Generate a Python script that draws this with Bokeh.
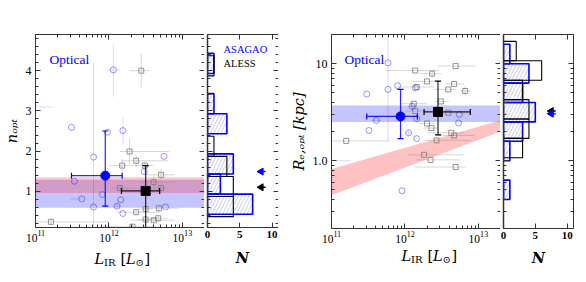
import numpy as np
from bokeh.plotting import figure
from bokeh.layouts import row, column
from bokeh.models import (Range1d, LinearAxis, LogAxis, FixedTicker, Label,
                          CustomJSTickFormatter, BoxAnnotation)
from bokeh.embed import file_html
from bokeh.resources import INLINE

# ---------------- data (log10 L_IR in L_sun) ----------------
# Left panel: n_opt vs L_IR
asa_n_logL = [12.06, 11.49, 11.98, 12.19, 11.79, 12.75, 12.48, 11.53, 11.91, 11.63, 11.79, 12.11, 12.16, 12.19, 12.77, 10.80]
asa_n      = [4.02, 2.59, 2.47, 2.51, 1.85, 1.87, 1.49, 1.25, 0.92, 0.81, 0.61, 0.63, 0.79, 0.45, 0.61, 3.10]
asa_n_xlo  = [11.97, 11.49, 11.98, 12.19, 11.79, 12.75, 12.48, 11.53, 11.91, 11.47, 11.79, 12.07, 12.16, 12.19, 12.77, 10.60]
asa_n_xhi  = [12.15, 11.49, 11.98, 12.19, 11.79, 12.75, 12.48, 11.53, 11.91, 11.63, 11.79, 12.16, 12.16, 12.19, 12.77, 11.25]
asa_n_ylo  = [3.35, 2.59, 2.47, 2.16, 0.00, 1.87, 1.42, 1.25, 0.92, 0.81, 0.61, 0.55, 0.79, 0.45, 0.61, 3.10]
asa_n_yhi  = [4.66, 2.59, 2.47, 2.85, 4.20, 1.87, 1.56, 1.25, 0.92, 0.81, 0.61, 0.71, 0.79, 0.45, 0.61, 3.10]

ale_n_logL = [12.44, 12.28, 12.37, 12.18, 12.49, 12.71, 12.61, 12.15, 12.71, 12.50, 12.37, 12.68, 12.50, 12.61, 12.67, 12.32, 11.21]
ale_n      = [4.00, 1.99, 1.76, 1.64, 1.64, 1.41, 1.23, 1.08, 1.08, 0.56, 0.48, 0.58, 0.30, 0.28, 0.33, 0.12, 0.24]
ale_n_xlo  = [12.27, 12.15, 12.17, 12.00, 12.40, 12.50, 12.42, 12.03, 12.60, 12.40, 12.10, 12.45, 12.40, 12.30, 12.55, 11.90, 11.00]
ale_n_xhi  = [12.55, 12.82, 12.80, 12.40, 12.60, 12.90, 12.93, 12.35, 12.80, 12.60, 12.70, 12.95, 12.60, 12.90, 12.80, 12.65, 12.00]
ale_n_ylo  = [3.59, 1.67, 1.60, 1.50, 1.55, 1.30, 1.05, 1.00, 0.95, 0.50, 0.42, 0.50, 0.22, 0.20, 0.25, 0.05, 0.18]
ale_n_yhi  = [4.44, 2.32, 1.90, 1.80, 1.75, 1.55, 1.40, 1.15, 1.20, 0.62, 0.55, 0.66, 0.38, 0.36, 0.42, 0.20, 0.30]

med_n_logL = [11.95, 12.50]
med_n      = [1.39, 1.01]
med_n_xlo  = [11.49, 12.17]
med_n_xhi  = [12.18, 12.69]
med_n_ylo  = [0.63, 0.00]
med_n_yhi  = [2.50, 1.64]

band_n_blue = [0.59, 1.29]
band_n_red  = [0.96, 1.35]

# Right panel: R_e,opt [kpc] vs L_IR
asa_r_logL = [11.77, 11.48, 11.77, 11.90, 12.14, 12.10, 11.61, 12.16, 11.51, 12.05, 12.16, 12.73, 12.74, 11.96, 10.80]
asa_r      = [10.2, 4.87, 5.43, 5.93, 5.60, 3.63, 2.60, 2.71, 2.05, 1.94, 1.69, 2.45, 3.00, 0.49, 1.00]
asa_r_xlo  = [11.77, 11.48, 11.77, 11.90, 12.14, 12.04, 11.55, 12.16, 11.51, 12.00, 12.16, 12.73, 12.74, 11.96, 10.60]
asa_r_xhi  = [11.77, 11.48, 11.77, 11.90, 12.14, 12.16, 11.68, 12.16, 11.51, 12.10, 12.16, 12.73, 12.74, 11.96, 11.26]
asa_r_ylo  = [1.62, 4.87, 5.43, 5.93, 5.20, 3.30, 2.60, 2.50, 2.05, 1.80, 1.69, 2.45, 3.00, 0.49, 1.00]
asa_r_yhi  = [25.0, 4.87, 5.43, 5.93, 6.00, 4.00, 2.60, 2.90, 2.05, 2.10, 1.69, 2.45, 3.00, 0.49, 1.00]

ale_r_logL = [12.69, 12.14, 12.37, 12.30, 12.67, 12.16, 12.59, 12.82, 12.12, 12.49, 12.14, 12.59, 12.30, 12.36, 12.63, 12.67, 12.43, 11.20, 12.26, 12.35, 12.69]
ale_r      = [9.46, 8.50, 7.90, 6.57, 6.17, 5.75, 5.43, 5.23, 3.87, 4.08, 3.25, 3.12, 2.42, 2.17, 1.94, 1.82, 1.62, 1.60, 1.15, 1.02, 0.86]
ale_r_xlo  = [12.44, 11.75, 12.20, 12.10, 12.55, 11.90, 12.40, 12.75, 11.95, 12.40, 12.00, 12.40, 12.20, 12.25, 12.30, 12.45, 12.26, 11.00, 12.03, 12.15, 12.13]
ale_r_xhi  = [12.96, 12.46, 12.50, 12.50, 12.80, 12.40, 12.70, 12.90, 12.30, 12.60, 12.35, 12.90, 12.40, 12.45, 12.80, 12.95, 12.90, 11.80, 12.80, 12.75, 12.83]
ale_r_ylo  = [9.46, 8.50, 7.30, 6.57, 6.17, 5.75, 5.43, 4.70, 3.87, 4.08, 3.25, 3.12, 2.42, 2.17, 1.94, 1.82, 1.62, 1.60, 1.15, 1.02, 0.86]
ale_r_yhi  = [9.46, 8.50, 8.60, 6.57, 6.17, 5.75, 5.43, 5.90, 3.87, 4.08, 3.25, 3.12, 2.42, 2.17, 1.94, 1.82, 1.62, 1.60, 1.15, 1.02, 0.86]

med_r_logL = [11.94, 12.45]
med_r      = [2.86, 3.18]
med_r_xlo  = [11.48, 12.26]
med_r_xhi  = [12.17, 12.89]
med_r_ylo  = [1.69, 1.85]
med_r_yhi  = [5.43, 6.60]

band_r_blue = [2.5, 3.7]
relation_logL = [11.0, 13.3]
relation_lo   = [0.44, 2.00]
relation_hi   = [0.82, 2.60]

# Histograms
hist_n_asa_edges = [0.43, 0.93, 1.43, 1.93, 2.43, 2.93, 3.43, 3.93, 4.43]
hist_n_asa_counts = [7, 2, 4, 0, 3, 1, 0, 1]
hist_n_ale_edges = [0.37, 0.87, 1.37, 1.87, 2.37, 2.87, 3.37, 3.87, 4.37]
hist_n_ale_counts = [4, 4, 3, 1, 0, 0, 0, 1]
hist_r_asa_logedges = [-0.4, -0.2, 0.0, 0.2, 0.4, 0.6, 0.8, 1.0, 1.2]
hist_r_asa_counts = [1, 0, 1, 3, 5, 3, 4, 1]
hist_r_ale_logedges = [0.03, 0.23, 0.43, 0.63, 0.83, 1.03, 1.23]
hist_r_ale_counts = [3, 4, 4, 3, 6, 2]

arrow_n = {"ASAGAO": 1.49, "ALESS": 1.10}
arrow_r = {"ASAGAO": 3.05, "ALESS": 3.25}

# ---------------- styling helpers ----------------
SERIF = "Liberation Serif"
MSERIF = "DejaVu Serif"
AXC = "#333333"
BLUE = "#0000ff"
GRAY = "#7a7a7a"


def lin(v):
    return [10.0 ** a for a in v]


def style(ax, show=True, bold=False, size="12px", standoff=3):
    ax.major_tick_in = 5
    ax.major_tick_out = 0
    ax.minor_tick_in = 3
    ax.minor_tick_out = 0
    ax.axis_line_color = AXC
    ax.major_tick_line_color = AXC
    ax.minor_tick_line_color = AXC
    if show:
        ax.major_label_text_font = SERIF
        ax.major_label_text_font_size = size
        ax.major_label_text_color = "black"
        ax.major_label_standoff = standoff
        if bold:
            ax.major_label_text_font_style = "bold"
    else:
        ax.formatter = CustomJSTickFormatter(code="return ''")
        ax.major_label_standoff = 0
        ax.major_label_text_font_size = "1px"


def ylabel(ax, text):
    ax.axis_label = text
    ax.axis_label_text_font = MSERIF
    ax.axis_label_text_font_size = "14.5px"
    ax.axis_label_text_font_style = "italic"
    ax.axis_label_text_color = "black"
    ax.axis_label_standoff = 3


x_major = [1e11, 1e12, 1e13]
x_minor = [k * 10.0 ** e for e in (11, 12, 13) for k in range(2, 10) if k * 10.0 ** e <= 2e13]
n_major = [1, 2, 3, 4]
n_minor = [round(0.2 * i, 1) for i in range(1, 25)]
r_major = [1, 10]
r_minor = [0.2, 0.3, 0.4, 0.5, 0.6, 0.7, 0.8, 0.9, 2, 3, 4, 5, 6, 7, 8, 9, 20]
h_major = [0, 5, 10]


def base_fig(**kw):
    p = figure(output_backend="svg", toolbar_location=None, **kw)
    p.grid.visible = False
    p.outline_line_color = None
    p.background_fill_color = "white"
    p.border_fill_color = "white"
    return p


def strip(w, h):
    p = figure(output_backend="svg", toolbar_location=None, width=w, height=h,
               x_range=Range1d(0, w), y_range=Range1d(0, h),
               x_axis_location=None, y_axis_location=None,
               min_border_left=0, min_border_right=0, min_border_top=0, min_border_bottom=0)
    p.grid.visible = False
    p.outline_line_color = None
    p.border_fill_color = "white"
    return p


def mirror(p, xlog, ylog, xt, yt):
    top = LogAxis(ticker=xt) if xlog else LinearAxis(ticker=xt)
    right = LogAxis(ticker=yt) if ylog else LinearAxis(ticker=yt)
    style(top, show=False)
    style(right, show=False)
    p.add_layout(top, "above")
    p.add_layout(right, "right")


def label(p, text, x, y, size, font=MSERIF, style_="normal", color="black", angle=0, align="left"):
    p.add_layout(Label(x=x, y=y, x_units="screen", y_units="screen", text=text,
                       text_font=font, text_font_size=size, text_font_style=style_,
                       text_color=color, angle=angle, text_align=align,
                       text_baseline="alphabetic"))


def lir_label(p, x0, y0):
    label(p, "L", x0, y0, "14.5px", style_="italic")
    label(p, "IR", x0 + 9.5, y0 - 3.5, "10px")
    label(p, "[", x0 + 26, y0, "14.5px")
    label(p, "L", x0 + 31.5, y0, "14.5px", style_="italic")
    label(p, "\u2299", x0 + 41, y0 - 3.5, "10px")
    label(p, "]", x0 + 50, y0, "14.5px")


def scatter_block(p, logL, y, xlo, xhi, ylo, yhi, color, alpha_pt, alpha_err, marker, size):
    X = lin(logL)
    p.segment(x0=lin(xlo), x1=lin(xhi), y0=y, y1=y, line_color=color, line_alpha=alpha_err, line_width=1)
    p.segment(x0=X, x1=X, y0=ylo, y1=yhi, line_color=color, line_alpha=alpha_err, line_width=1)
    p.scatter(X, y, marker=marker, size=size, fill_color=None, line_color=color,
              line_alpha=alpha_pt, line_width=1)


def median_block(p, logL, y, xlo, xhi, ylo, yhi, idx, color, marker):
    X = [10.0 ** logL[idx]]
    Y = [y[idx]]
    xl, xh = [10.0 ** xlo[idx]], [10.0 ** xhi[idx]]
    yl, yh = [ylo[idx]], [yhi[idx]]
    p.segment(x0=xl, x1=xh, y0=Y, y1=Y, line_color=color, line_width=1.2, line_alpha=0.85)
    p.segment(x0=X, x1=X, y0=yl, y1=yh, line_color=color, line_width=1.2, line_alpha=0.85)
    p.scatter(xl + xh, Y + Y, marker="dash", angle=np.pi / 2, size=6, line_color=color, line_width=1.2)
    p.scatter(X + X, yl + yh, marker="dash", size=6, line_color=color, line_width=1.2)
    p.scatter(X, Y, marker=marker, size=9, fill_color=color, line_color=color)


def hist_block(p, edges, counts, color, hatch):
    lo = [edges[i] for i in range(len(counts)) if counts[i] > 0]
    hi = [edges[i + 1] for i in range(len(counts)) if counts[i] > 0]
    c = [counts[i] for i in range(len(counts)) if counts[i] > 0]
    if hatch:
        p.quad(left=0, right=c, bottom=lo, top=hi, fill_color="white", fill_alpha=0,
               hatch_pattern="/", hatch_color="#8080e0", hatch_alpha=0.6, hatch_scale=7,
               hatch_weight=0.7, line_color=color, line_width=1.6)
    else:
        p.quad(left=0, right=c, bottom=lo, top=hi, fill_color=None, line_color=color, line_width=1.1)


def arrow(p, x_tip, y, color):
    p.segment(x0=[x_tip], x1=[x_tip + 1.0], y0=[y], y1=[y], line_color=color, line_width=1.5)
    p.scatter([x_tip + 0.3], [y], marker="triangle", angle=np.pi / 2, size=7,
              fill_color=color, line_color=color)


ROW_H = 247

# ---------------- Panel A: n_opt ----------------
pA = base_fig(x_axis_type="log", x_range=Range1d(1e11, 2e13), y_range=Range1d(0.1, 4.9),
              frame_width=169, frame_height=193, min_border_left=35, min_border_right=0,
              min_border_top=34, min_border_bottom=ROW_H - 34 - 193)
pA.xaxis.ticker = FixedTicker(ticks=x_major, minor_ticks=x_minor)
pA.yaxis.ticker = FixedTicker(ticks=n_major, minor_ticks=n_minor)
style(pA.xaxis[0], size="11.5px", standoff=2)
style(pA.yaxis[0], size="12px", standoff=4)
ylabel(pA.yaxis[0], "n\u2092\u209a\u209c")
mirror(pA, True, False, FixedTicker(ticks=x_major, minor_ticks=x_minor),
       FixedTicker(ticks=n_major, minor_ticks=n_minor))

pA.add_layout(BoxAnnotation(bottom=band_n_blue[0], top=band_n_blue[1], fill_color=BLUE,
                            fill_alpha=0.23, line_color=None, level="underlay"))
pA.add_layout(BoxAnnotation(bottom=band_n_red[0], top=band_n_red[1], fill_color="#ff2020",
                            fill_alpha=0.25, line_color=None, level="underlay"))
scatter_block(pA, ale_n_logL, ale_n, ale_n_xlo, ale_n_xhi, ale_n_ylo, ale_n_yhi, GRAY, 0.8, 0.3, "square", 5)
scatter_block(pA, asa_n_logL, asa_n, asa_n_xlo, asa_n_xhi, asa_n_ylo, asa_n_yhi, BLUE, 0.4, 0.15, "circle", 6)
median_block(pA, med_n_logL, med_n, med_n_xlo, med_n_xhi, med_n_ylo, med_n_yhi, 0, BLUE, "circle")
median_block(pA, med_n_logL, med_n, med_n_xlo, med_n_xhi, med_n_ylo, med_n_yhi, 1, "black", "square")
label(pA, "Optical", 14, 168.5, "13.5px", font=SERIF, color=BLUE)

# ---------------- Panel B: n histogram ----------------
pB = base_fig(x_range=Range1d(0, 11), y_range=pA.y_range,
              frame_width=71, frame_height=193, min_border_left=3, min_border_right=0,
              min_border_top=34, min_border_bottom=ROW_H - 34 - 193)
pB.xaxis.ticker = FixedTicker(ticks=h_major, minor_ticks=[])
pB.yaxis.ticker = FixedTicker(ticks=n_major, minor_ticks=n_minor)
style(pB.xaxis[0], bold=True, size="11px", standoff=3)
style(pB.yaxis[0], show=False)
pB.yaxis[0].axis_line_width = 1.5
mirror(pB, False, False, FixedTicker(ticks=h_major, minor_ticks=[]),
       FixedTicker(ticks=n_major, minor_ticks=n_minor))
hist_block(pB, hist_n_asa_edges, hist_n_asa_counts, BLUE, True)
hist_block(pB, hist_n_ale_edges, hist_n_ale_counts, "black", False)
arrow(pB, 8.0, arrow_n["ASAGAO"], BLUE)
arrow(pB, 8.0, arrow_n["ALESS"], "black")
label(pB, "ASAGAO", 16, 178.5, "10.5px", font=SERIF, color=BLUE)
label(pB, "ALESS", 16, 164.5, "10.5px", font=SERIF, color="black")

# ---------------- Panel C: R_e,opt ----------------
pC = base_fig(x_axis_type="log", y_axis_type="log", x_range=Range1d(1e11, 2e13), y_range=Range1d(0.2, 20),
              frame_width=169, frame_height=194, min_border_left=53, min_border_right=0,
              min_border_top=31, min_border_bottom=ROW_H - 31 - 194)
pC.xaxis.ticker = FixedTicker(ticks=x_major, minor_ticks=x_minor)
pC.yaxis.ticker = FixedTicker(ticks=r_major, minor_ticks=r_minor)
style(pC.xaxis[0], size="11.5px", standoff=2)
style(pC.yaxis[0], size="12px", standoff=4)
pC.yaxis[0].formatter = CustomJSTickFormatter(code="return tick < 5 ? '1.0' : '10'")
ylabel(pC.yaxis[0], "R\u2091,\u2092\u209a\u209c [kpc]")
mirror(pC, True, True, FixedTicker(ticks=x_major, minor_ticks=x_minor),
       FixedTicker(ticks=r_major, minor_ticks=r_minor))

pC.add_layout(BoxAnnotation(bottom=band_r_blue[0], top=band_r_blue[1], fill_color=BLUE,
                            fill_alpha=0.23, line_color=None, level="underlay"))
pC.varea(x=lin(relation_logL), y1=relation_lo, y2=relation_hi, fill_color="#ff2020", fill_alpha=0.28)
scatter_block(pC, ale_r_logL, ale_r, ale_r_xlo, ale_r_xhi, ale_r_ylo, ale_r_yhi, GRAY, 0.8, 0.3, "square", 5)
scatter_block(pC, asa_r_logL, asa_r, asa_r_xlo, asa_r_xhi, asa_r_ylo, asa_r_yhi, BLUE, 0.4, 0.15, "circle", 6)
median_block(pC, med_r_logL, med_r, med_r_xlo, med_r_xhi, med_r_ylo, med_r_yhi, 0, BLUE, "circle")
median_block(pC, med_r_logL, med_r, med_r_xlo, med_r_xhi, med_r_ylo, med_r_yhi, 1, "black", "square")
label(pC, "Optical", 13, 169, "13.5px", font=SERIF, color=BLUE)

# ---------------- Panel D: R histogram ----------------
pD = base_fig(x_range=Range1d(0, 11), y_axis_type="log", y_range=pC.y_range,
              frame_width=70, frame_height=194, min_border_left=3, min_border_right=5,
              min_border_top=31, min_border_bottom=ROW_H - 31 - 194)
pD.xaxis.ticker = FixedTicker(ticks=h_major, minor_ticks=[])
pD.yaxis.ticker = FixedTicker(ticks=r_major, minor_ticks=r_minor)
style(pD.xaxis[0], bold=True, size="11px", standoff=3)
style(pD.yaxis[0], show=False)
pD.yaxis[0].axis_line_width = 1.5
mirror(pD, False, True, FixedTicker(ticks=h_major, minor_ticks=[]),
       FixedTicker(ticks=r_major, minor_ticks=r_minor))
hist_block(pD, lin(hist_r_asa_logedges), hist_r_asa_counts, BLUE, True)
hist_block(pD, lin(hist_r_ale_logedges), hist_r_ale_counts, "black", False)
arrow(pD, 7.2, arrow_r["ALESS"], "black")
arrow(pD, 7.2, arrow_r["ASAGAO"], BLUE)

# ---------------- bottom axis titles ----------------
sB = strip(578, 33)            # page y 247..280
lir_label(sB, 94, 22)
lir_label(sB, 401, 24.5)
label(sB, "N", 242, 23, "14.5px", style_="bold italic", align="center")
label(sB, "N", 538, 23, "14.5px", style_="bold italic", align="center")

layout = column(row(pA, pB, pC, pD, spacing=0), sB, spacing=0)
open("out.html", "w").write(file_html(layout, INLINE))
